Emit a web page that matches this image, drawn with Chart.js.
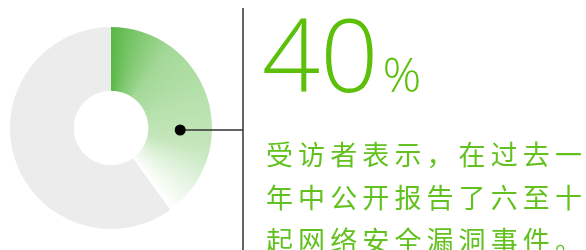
<!DOCTYPE html>
<html lang="zh">
<head>
<meta charset="UTF-8">
<script src="https://cdn.jsdelivr.net/npm/chart.js"></script>
<style>
  body { margin: 0; background: #fff; }
  .wrap { position: relative; width: 586px; height: 250px; overflow: hidden; }
  canvas { position: absolute; left: 0; top: 0; }
  .big {
    position: absolute; left: 262px; top: 2px;
    font-family: "Open Sans", "Noto Sans", sans-serif; font-weight: 350;
    color: #5cbf0a; font-size: 102px; line-height: 1; white-space: nowrap;
  }
  .big span { font-size: 48px; margin-left: 4px; }
  .note {
    position: absolute; left: 266px; top: 132px; width: 330px;
    font-family: "Noto Sans CJK SC", sans-serif; color: #62c11e;
    font-size: 27px; line-height: 43px; letter-spacing: 5.1px;
  }
</style>
</head>
<body>
<div class="wrap">
  <canvas id="donut" width="586" height="250"></canvas>
  <div class="big" id="bigNum"></div>
  <div class="note" id="note"></div>
</div>
<script>
// data
var labels = ['公开报告六至十起', '其他'];
var values = [40, 60];
var note = '受访者表示，在过去一年中公开报告了六至十起网络安全漏洞事件。';

document.getElementById('bigNum').innerHTML = values[0] + '<span>%</span>';
document.getElementById('note').textContent = note;

function sliceFill(context) {
  if (context.dataIndex !== 0) return '#ebeceb';
  var chart = context.chart;
  if (!chart.chartArea) return '#a3d897';
  var a = chart.chartArea;
  var cx = (a.left + a.right) / 2, cy = (a.top + a.bottom) / 2;
  var g = chart.ctx.createConicGradient(-Math.PI / 2, cx, cy);
  g.addColorStop(0, '#58b746');
  g.addColorStop(0.04, '#7bc66b');
  g.addColorStop(0.1, '#a3d897');
  g.addColorStop(0.2, '#b7e1ad');
  g.addColorStop(0.28, '#c3e6ba');
  g.addColorStop(0.34, '#e2f3de');
  g.addColorStop(0.4, '#ffffff');
  g.addColorStop(1, '#ffffff');
  return g;
}

// leader: dot, horizontal line, vertical rule
var leader = {
  id: 'leader',
  afterDraw: function (chart) {
    var arc = chart.getDatasetMeta(0).data[0];
    var ctx = chart.ctx;
    var r = (arc.innerRadius + arc.outerRadius) / 2;
    var x = arc.x + r, y = arc.y + 2;
    ctx.save();
    ctx.strokeStyle = '#333';
    ctx.lineWidth = 1.5;
    ctx.beginPath();
    ctx.moveTo(x, y);
    ctx.lineTo(243, y);
    ctx.moveTo(243, 8);
    ctx.lineTo(243, 250);
    ctx.stroke();
    ctx.fillStyle = '#000';
    ctx.beginPath();
    ctx.arc(x, y, 5.5, 0, Math.PI * 2);
    ctx.fill();
    ctx.restore();
  }
};

new Chart(document.getElementById('donut'), {
  type: 'doughnut',
  data: {
    labels: labels,
    datasets: [{
      data: values,
      backgroundColor: sliceFill,
      borderWidth: 0
    }]
  },
  options: {
    responsive: false,
    animation: false,
    cutout: '37%',
    layout: { padding: { left: 10, top: 27, right: 374, bottom: 21 } },
    plugins: { legend: { display: false }, tooltip: { enabled: false } }
  },
  plugins: [leader]
});
</script>
</body>
</html>
